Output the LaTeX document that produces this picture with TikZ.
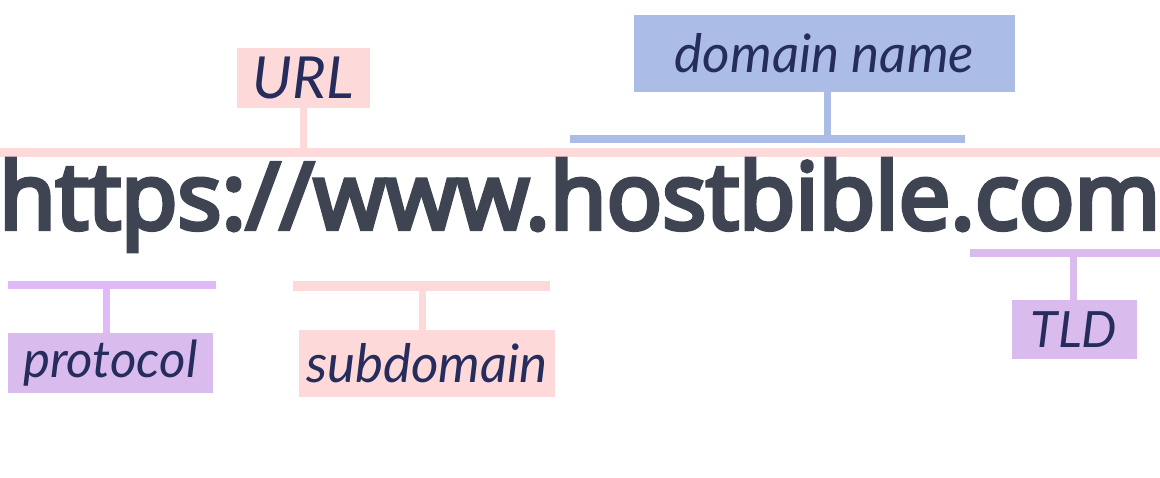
\documentclass[tikz,border=0pt]{standalone}
\usepackage{fontspec}
\usepackage{graphicx}
\newfontfamily\urlfont{Open Sans}[FakeBold=4.8]
\newfontfamily\handfont{Lato}
\definecolor{pinkc}{HTML}{FDD9D9}
\definecolor{bluec}{HTML}{ABBDE6}
\definecolor{purpc}{HTML}{DABBEE}
\definecolor{purpline}{HTML}{E0B9F8}
\definecolor{navyc}{HTML}{262C5C}
\definecolor{slatec}{HTML}{3E4451}
\tikzset{
  lbl/.style={inner sep=0pt, text=navyc, font=\handfont\itshape},
  bar/.style={inner sep=0pt, minimum height=#1},
  bar/.default=8pt,
  stem/.style={line width=7pt},
}
\begin{document}
\begin{tikzpicture}[x=1pt,y=-1pt]
\useasboundingbox (0,0) rectangle (1160,477);
% label boxes
\node[lbl, fill=pinkc, minimum width=133pt, minimum height=60pt, font=\handfont\itshape\fontsize{58}{62}\selectfont] (url) at (303.5,78) {URL};
\node[lbl, fill=bluec, minimum width=381pt, minimum height=77pt, font=\handfont\itshape\fontsize{53}{58}\selectfont] (dom) at (824.5,53.5) {domain name};
\node[lbl, fill=purpc, minimum width=205pt, minimum height=60pt, font=\handfont\itshape\fontsize{51}{56}\selectfont] (prot) at (110.5,363) {protocol};
\node[lbl, fill=pinkc, minimum width=256pt, minimum height=67pt, font=\handfont\itshape\fontsize{53}{58}\selectfont] (sub) at (427,363.5) {subdomain};
\node[lbl, fill=purpc, minimum width=125pt, minimum height=59pt, font=\handfont\itshape\fontsize{50}{56}\selectfont] (tld) at (1074,329.5) {TLD};
% bars
\node[bar=9pt, fill=pinkc, minimum width=1160pt] (urlbar) at (580,152.5) {};
\node[bar=8pt, fill=bluec, minimum width=395pt] (dombar) at (767.5,139) {};
\node[bar=8pt, fill=purpline, minimum width=208pt] (protbar) at (112,285) {};
\node[bar=10pt, fill=pinkc, minimum width=257pt] (subbar) at (421.5,286) {};
\node[bar=8pt, fill=purpc, minimum width=190pt] (tldbar) at (1065,253) {};
% stems
\draw[stem, pinkc] ([xshift=-0.5pt]url.south) -- ([xshift=-0.5pt]url.south |- urlbar.north);
\draw[stem, bluec] ([xshift=2.5pt]dom.south) -- ([xshift=2.5pt]dom.south |- dombar.north);
\draw[stem, purpline] ([xshift=-4.5pt]prot.north) -- ([xshift=-4.5pt]prot.north |- protbar.south);
\draw[stem, pinkc] ([xshift=-5pt]sub.north) -- ([xshift=-5pt]sub.north |- subbar.south);
\draw[stem, purpc] ([xshift=-1pt]tld.north) -- ([xshift=-1pt]tld.north |- tldbar.south);
% main URL text
\node[anchor=base west, inner sep=0pt, text=slatec] (addr) at (-1,229)
  {\resizebox{1160pt}{!}{\urlfont https://www.hostbible.com}};
\end{tikzpicture}
\end{document}
